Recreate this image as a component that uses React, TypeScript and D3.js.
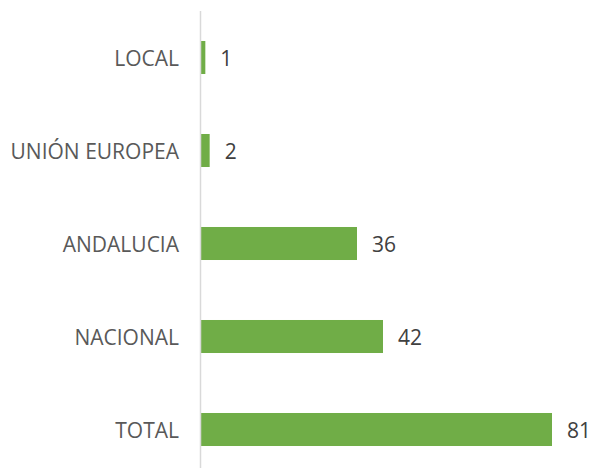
import React from "react";
import * as d3 from "d3";

const categories = ["LOCAL", "UNIÓN EUROPEA", "ANDALUCIA", "NACIONAL", "TOTAL"];
const values = [1, 2, 36, 42, 81];

const W = 602;
const H = 468;

export default function App() {
  const y = d3
    .scaleBand<string>()
    .domain(categories)
    .range([11, 476])
    .paddingInner(0.645)
    .paddingOuter(0.3225);
  const x = d3.scaleLinear().domain([0, 90]).range([201, 591]);
  const font = "'Open Sans', sans-serif";
  return (
    <svg
      width={W}
      height={H}
      style={{ position: "absolute", left: 0, top: 0, display: "block", background: "#fff" }}
    >
      {categories.map((c, i) => {
        const yy = y(c)!;
        const cy = yy + y.bandwidth() / 2 + 0.7;
        return (
          <g key={c}>
            <rect
              x={x(0)}
              y={yy}
              width={x(values[i]) - x(0)}
              height={y.bandwidth()}
              fill="#70AD47"
            />
            <text
              x={x(0) - 22}
              y={cy}
              textAnchor="end"
              dominantBaseline="central"
              fontFamily={font}
              fontSize={21}
              fill="#595959"
            >
              {c}
            </text>
            <text
              x={x(values[i]) + 15}
              y={cy}
              textAnchor="start"
              dominantBaseline="central"
              fontFamily={font}
              fontSize={21}
              fill="#404040"
            >
              {values[i]}
            </text>
          </g>
        );
      })}
      <line x1={200.5} x2={200.5} y1={11} y2={H} stroke="#D9D9D9" strokeWidth={1.5} />
    </svg>
  );
}
